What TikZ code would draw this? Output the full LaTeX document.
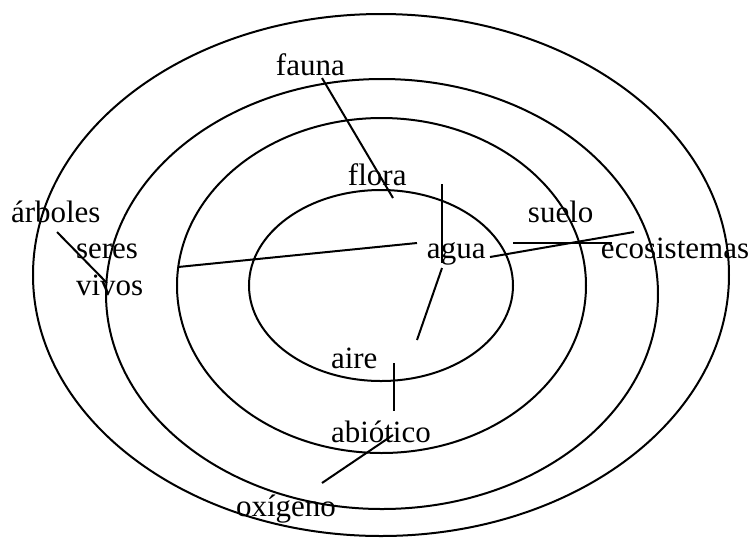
\documentclass[tikz,border=0pt]{standalone}
\usepackage{fontspec}
\setmainfont{Liberation Serif}

\begin{document}
\begin{tikzpicture}[x=0.5pt, y=-0.5pt, line width=1pt,
    lbl/.style={anchor=base west, inner sep=0pt, font=\fontsize{15.5}{18}\selectfont}]
    \useasboundingbox (0,0) rectangle (752,538);

    % rings
    \draw (381,275) ellipse [x radius=174pt, y radius=130.5pt];
    \draw (382,294) ellipse [x radius=138pt, y radius=107.5pt];
    \draw (381.5,285.5) ellipse [x radius=102.25pt, y radius=83.75pt];
    \draw (381,285.5) ellipse [x radius=66pt, y radius=47.75pt];

    % labels
    \node[lbl] (fauna) at (275,75) {fauna};
    \node[lbl] (flora) at (347,185) {flora};
    \node[lbl] (arboles) at (10,222) {árboles};
    \node[lbl] (seres) at (75,258) {seres};
    \node[lbl] (vivos) at (75,295) {vivos};
    \node[lbl] (agua) at (426,258) {agua};
    \node[lbl] (suelo) at (527,222) {suelo};
    \node[lbl] (eco) at (600,258) {ecosistemas};
    \node[lbl] (aire) at (330,368) {aire};
    \node[lbl] (abio) at (330,442) {abiótico};
    \node[lbl] (oxi) at (235,516) {oxígeno};

    % line ends
    \coordinate (fa1) at (322,78);
    \coordinate (fa2) at (393,198);
    \coordinate (ar1) at (57,232);
    \coordinate (ar2) at (107,283);
    \coordinate (vl1) at (442,184);
    \coordinate (vl2) at (442,263);
    \coordinate (sv1) at (178,267);
    \coordinate (sv2) at (417,243);
    \coordinate (ag1) at (442,268);
    \coordinate (ag2) at (417,340);
    \coordinate (ec1) at (490,257);
    \coordinate (ec2) at (634,232);
    \coordinate (su1) at (513,243);
    \coordinate (su2) at (612,243);
    \coordinate (ai1) at (394,363);
    \coordinate (ai2) at (394,411);
    \coordinate (ox1) at (322,483);
    \coordinate (ox2) at (393,435);

    \draw (fa1)--(fa2);
    \draw (ar1)--(ar2);
    \draw (vl1)--(vl2);
    \draw (sv1)--(sv2);
    \draw (ag1)--(ag2);
    \draw (ec1)--(ec2);
    \draw (su1)--(su2);
    \draw (ai1)--(ai2);
    \draw (ox1)--(ox2);
\end{tikzpicture}
\end{document}
